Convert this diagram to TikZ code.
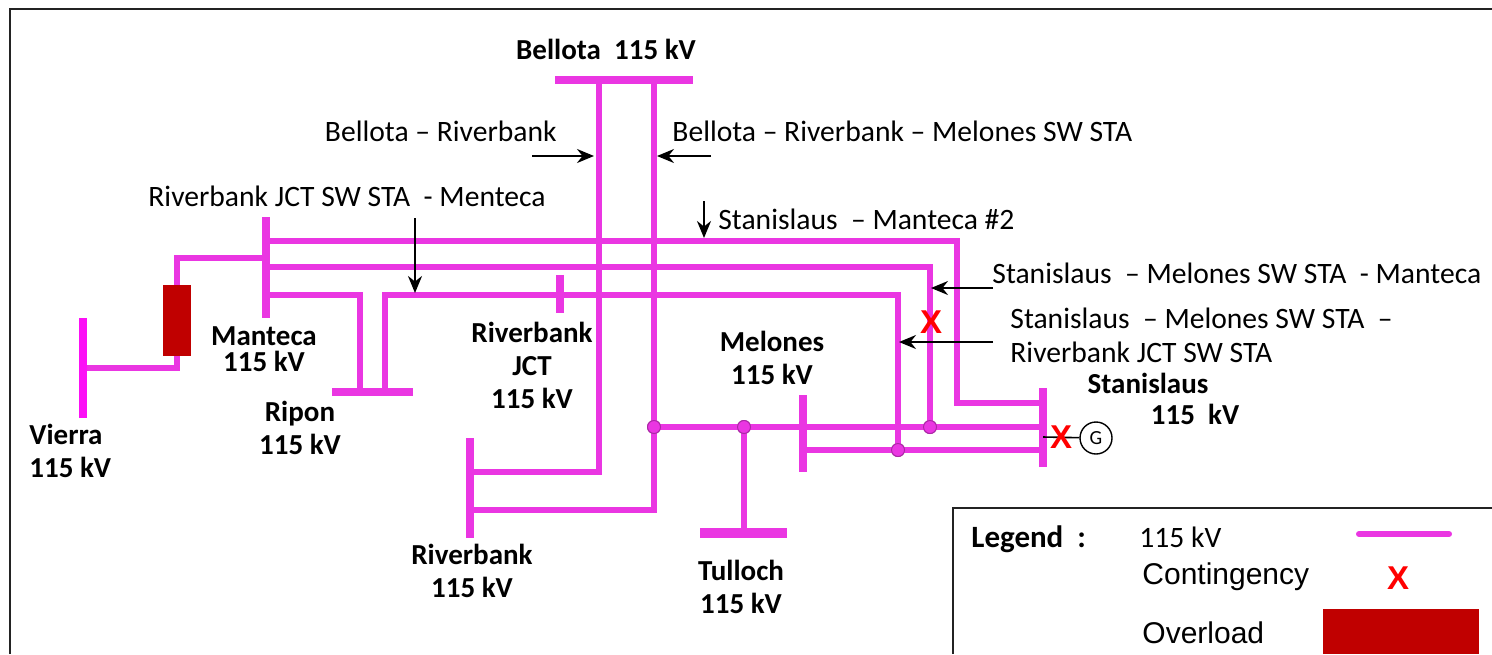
\documentclass[tikz,border=0pt]{standalone}
\usepackage{fontspec}
\setmainfont{Carlito}
\newfontfamily\arialfont{Liberation Sans}
\usetikzlibrary{arrows.meta}
\definecolor{lineMag}{RGB}{234,54,226}
\definecolor{vierraMag}{RGB}{252,16,246}
\definecolor{tapEdge}{RGB}{170,40,165}
\definecolor{overRed}{RGB}{192,0,0}
\definecolor{frameGray}{RGB}{35,35,35}

\begin{document}
\begin{tikzpicture}[x=0.5pt,y=-0.5pt]
		\tikzset{feeder/.style = {draw=lineMag, line width=3pt, line join=miter},
			bus/.style = {draw=lineMag, line width=4.3pt},
			tap/.style = {circle, draw=tapEdge, fill=lineMag, line width=0.5pt, inner sep=0pt, minimum size=6.5pt},
			pointer/.style = {-{Stealth[length=8.5pt,width=7pt]}, line width=1pt},
			lbl/.style = {font=\fontsize{14.8}{17}\selectfont, inner sep=0pt},
			busname/.style = {font=\bfseries\fontsize{14.5}{16.5}\selectfont, inner sep=0pt, align=center},
			contx/.style = {text=red, font=\arialfont\bfseries\fontsize{16.5}{16.5}\selectfont, inner sep=0pt},
			overload/.style = {fill=overRed, inner sep=0pt, minimum width=14pt, minimum height=35.5pt},
			frame/.style = {draw=frameGray, line width=1pt}}

		\useasboundingbox (0,0) rectangle (1492,654);
		\draw[frame] (10,654) -- (10,9) -- (1492,9);
		\draw[frame] (953,654) -- (953,508) -- (1492,508);

		\coordinate (Bel1) at (555,80);
		\coordinate (Bel2) at (693,80);
		\coordinate (Man1) at (266,217);
		\coordinate (Man2) at (266,318);
		\coordinate (Vie1) at (83,318);
		\coordinate (Vie2) at (83,418);
		\coordinate (Rip1) at (332,392);
		\coordinate (Rip2) at (413,392);
		\coordinate (Jct1) at (560,275);
		\coordinate (Jct2) at (560,313);
		\coordinate (Riv1) at (470,438);
		\coordinate (Riv2) at (470,538);
		\coordinate (Tul1) at (700,533);
		\coordinate (Tul2) at (787,533);
		\coordinate (Mel1) at (803,395);
		\coordinate (Mel2) at (803,472);
		\coordinate (Sta1) at (1043,388);
		\coordinate (Sta2) at (1043,467);

		\coordinate (BelA) at (599,80);
		\coordinate (BelB) at (654,80);
		\coordinate (RivA) at (470,472);
		\coordinate (RivB) at (470,510);
		\coordinate (ManA) at (266,241);
		\coordinate (ManB) at (266,267);
		\coordinate (ManC) at (266,295);
		\coordinate (ManD) at (266,258);
		\coordinate (RipA) at (360,392);
		\coordinate (RipB) at (385,392);
		\coordinate (TulA) at (744,533);
		\coordinate (MelA) at (803,450);
		\coordinate (StaA) at (1043,427);
		\coordinate (StaB) at (1043,403);
		\coordinate (StaC) at (1043,450);
		\coordinate (StaD) at (1043,437);
		\coordinate (VieA) at (83,368);
		\coordinate (C3) at (957,241);
		\coordinate (C6) at (898,295);

		\node[tap] (T1) at (654,427) {};
		\node[tap] (T2) at (744,427) {};
		\node[tap] (T3) at (930,427) {};
		\node[tap] (T4) at (898,450) {};
		\node[overload] (OVL) at (177,320.5) {};

		\draw[feeder] (BelA) |- (RivA);
		\draw[feeder] (BelB) |- (RivB);
		\draw[feeder] (T1.center) -- (StaA);
		\draw[feeder, line width=2.6pt] (T2.center) -- (TulA);
		\draw[feeder] (ManA) -- (C3) |- (StaB);
		\draw[feeder] (ManB) -| (T3.center);
		\draw[feeder] (ManC) -| (RipA);
		\draw[feeder] (RipB) |- (C6) -- (T4.center);
		\draw[feeder] (MelA) -- (StaC);
		\draw[feeder] (ManD) -| (OVL.north);
		\draw[feeder] (OVL.south) |- (VieA);

		\draw[bus] (Bel1) -- (Bel2);
		\draw[bus] (Man1) -- (Man2);
		\draw[bus, draw=vierraMag] (Vie1) -- (Vie2);
		\draw[bus] (Rip1) -- (Rip2);
		\draw[bus] (Jct1) -- (Jct2);
		\draw[bus] (Riv1) -- (Riv2);
		\draw[bus, line width=5pt] (Tul1) -- (Tul2);
		\draw[bus] (Mel1) -- (Mel2);
		\draw[bus] (Sta1) -- (Sta2);

		\node[tap] at (T1) {};
		\node[tap] at (T2) {};
		\node[tap] at (T3) {};
		\node[tap] at (T4) {};

		\node[draw, circle, minimum size=16pt, inner sep=0pt, line width=0.7pt, font=\fontsize{10}{10}\selectfont] (Gen) at (1096,438) {G};
		\draw[line width=0.8pt] (StaD) -- (Gen);
		\node[contx] (X1) at (931,322) {X};
		\node[contx] (X2) at (1061,437) {X};

		\node[busname, anchor=base] (nBel) at (606,59) {Bellota\ \ 115 kV};
		\node[busname, anchor=base, font=\bfseries\fontsize{14.5}{13}\selectfont] (nMan) at (264,371) {Manteca\\115 kV};
		\node[busname, anchor=base west, align=left] (nVie) at (29,477) {Vierra\\115 kV};
		\node[busname, anchor=base] (nRip) at (300,454) {Ripon\\115 kV};
		\node[busname, anchor=base] (nJct) at (532,408) {Riverbank\\JCT\\115 kV};
		\node[busname, anchor=base] (nRiv) at (472,597) {Riverbank\\115 kV};
		\node[busname, anchor=base] (nTul) at (741,613) {Tulloch\\115 kV};
		\node[busname, anchor=base] (nMel) at (772,384) {Melones\\115 kV};
		\node[busname, anchor=base] (nSta) at (1148,393) {Stanislaus};
		\node[busname, anchor=base] (nStaKV) at (1195,424) {115\ \ kV};

		\node[lbl, anchor=base east] (lBR) at (557,141) {Bellota – Riverbank};
		\node[lbl, anchor=base west] (lBRM) at (672,141) {Bellota – Riverbank – Melones SW STA};
		\node[lbl, anchor=base west] (lJM) at (148,206) {Riverbank JCT SW STA\ \ - Menteca};
		\node[lbl, anchor=base west] (lSM) at (718,229) {Stanislaus\ \ – Manteca \#2};
		\node[lbl, anchor=base west] (lSMM) at (992,283) {Stanislaus\ \ – Melones SW STA\ \ - Manteca};
		\node[lbl, anchor=base west, align=left] (lSMR) at (1010,362) {Stanislaus\ \ – Melones SW STA\ \ –\\Riverbank JCT SW STA};

		\coordinate (pA1) at (532,156);
		\coordinate (pA2) at (594,156);
		\coordinate (pB1) at (711,156);
		\coordinate (pB2) at (657,156);
		\coordinate (pC1) at (415,218);
		\coordinate (pC2) at (415,293);
		\coordinate (pD1) at (704,201);
		\coordinate (pD2) at (704,238);
		\coordinate (pE1) at (993,288);
		\coordinate (pE2) at (931,288);
		\coordinate (pF1) at (993,342);
		\coordinate (pF2) at (899,342);
		\draw[pointer] (pA1) -- (pA2);
		\draw[pointer] (pB1) -- (pB2);
		\draw[pointer] (pC1) -- (pC2);
		\draw[pointer] (pD1) -- (pD2);
		\draw[pointer] (pE1) -- (pE2);
		\draw[pointer] (pF1) -- (pF2);

		\node[busname, anchor=base west, font=\bfseries\fontsize{15.5}{17}\selectfont] (lgTitle) at (971,547) {Legend\ \ :};
		\node[lbl, anchor=base west] (lgKV) at (1139,547) {115 kV};
		\coordinate (lgA) at (1359,534);
		\coordinate (lgB) at (1449,534);
		\draw[feeder, line cap=round] (lgA) -- (lgB);
		\node[lbl, anchor=base west, font=\arialfont\fontsize{15}{17}\selectfont] (lgCont) at (1142,584) {Contingency};
		\node[contx] (lgX) at (1398,578) {X};
		\node[lbl, anchor=base west, font=\arialfont\fontsize{15}{17}\selectfont] (lgOvl) at (1142,643) {Overload};
		\node[overload, minimum width=78pt, minimum height=22.5pt] (lgBox) at (1401,631.5) {};
	\end{tikzpicture}
\end{document}
